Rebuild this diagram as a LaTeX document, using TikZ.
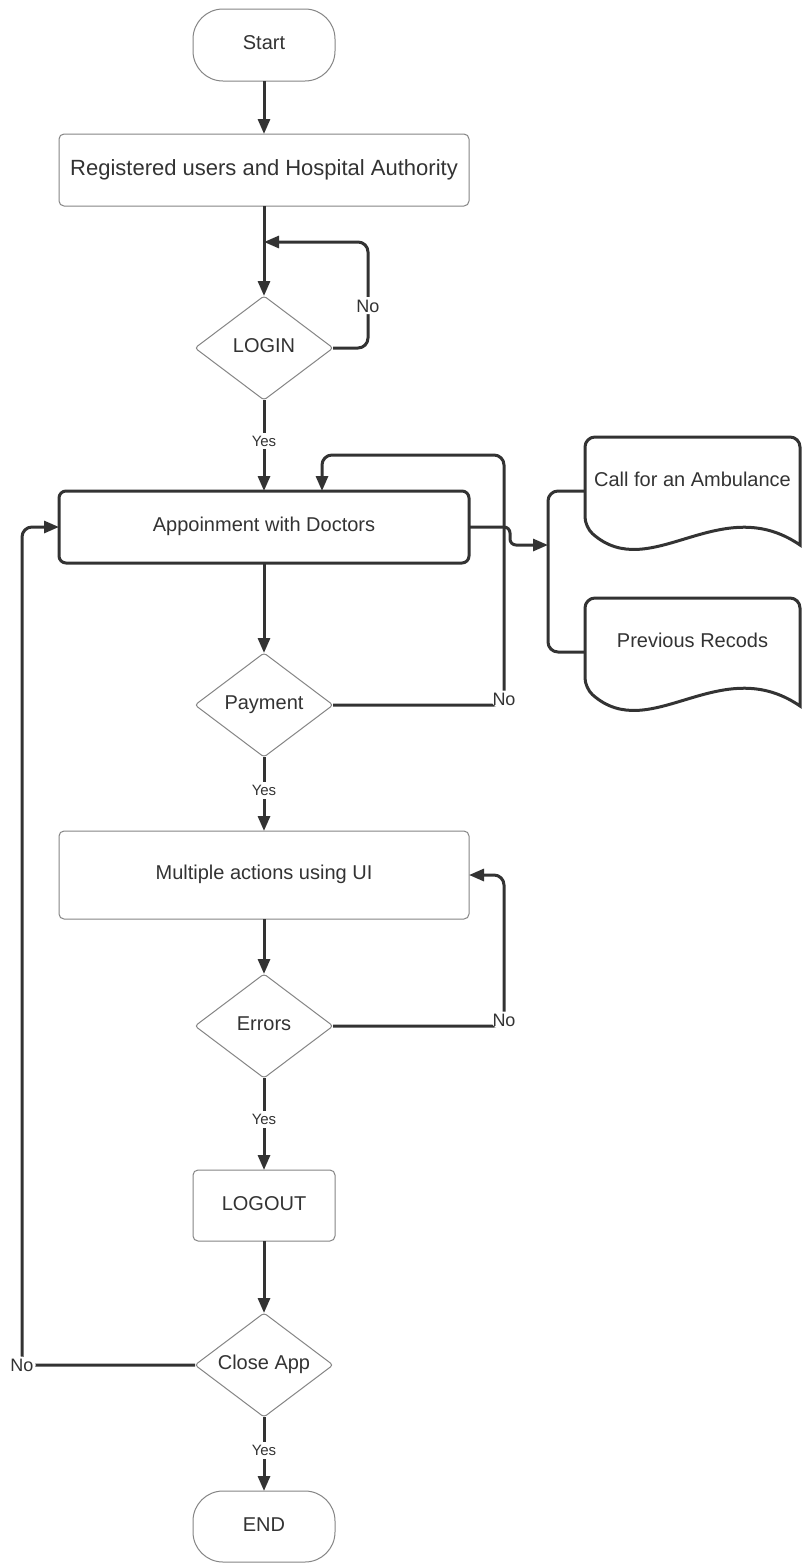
\documentclass[tikz,border=0pt]{standalone}
\usepackage{fontspec}
\setmainfont{Liberation Sans}
\usetikzlibrary{arrows.meta,shapes.geometric}
\definecolor{ink}{HTML}{333333}
\definecolor{rim}{HTML}{858585}

\begin{document}
\begin{tikzpicture}[x=1pt,y=-1pt,>={Triangle[length=15pt,width=12pt]},
  every node/.style={text=ink,inner sep=0pt,outer sep=0pt,
    font=\fontsize{20}{24}\selectfont,text height=14.4pt,text depth=5pt},
  term/.style={draw=rim,line width=1pt,rounded corners=30pt,
    minimum width=142pt,minimum height=72pt},
  proc/.style={draw=rim,line width=1pt,rounded corners=5pt,
    minimum width=410pt,minimum height=72pt},
  decision/.style={diamond,aspect=1.33,draw=rim,line width=1pt,
    rounded corners=3pt,minimum width=138pt,minimum height=104pt},
  docbox/.style={minimum width=215pt,minimum height=108pt,
    text height=10pt,text depth=20pt},
  docrim/.style={draw=ink,line width=3pt},
  flow/.style={->,draw=ink,line width=3pt},
  yeslbl/.style={fill=white,inner sep=3pt,
    font=\fontsize{15}{18}\selectfont,text height=10.8pt,text depth=0pt},
  nolbl/.style={fill=white,inner sep=2pt,
    font=\fontsize{18}{22}\selectfont,text height=13pt,text depth=0pt}]
  \fill[white,use as bounding box] (0,0) rectangle (801,1564);

  \node[term] (start) at (264,45) {Start};
  \node[proc,font=\fontsize{22}{26}\selectfont,text height=15.8pt] (reg)
    at (264,170) {Registered users and Hospital Authority};
  \node[decision] (login) at (264,348) {LOGIN};
  \node[proc,draw=ink,line width=3pt,rounded corners=7pt] (app)
    at (264,527) {Appoinment with Doctors};
  \node[decision] (pay) at (264,705) {Payment};
  \node[docbox] (amb) at (692.5,491) {Call for an Ambulance};
  \node[docbox] (prev) at (692.5,652) {Previous Recods};
  \node[proc,minimum height=88pt] (multi) at (264,875) {Multiple actions using UI};
  \node[decision] (err) at (264,1026) {Errors};
  \node[proc,minimum width=142pt,minimum height=71pt] (logout)
    at (264,1205.5) {LOGOUT};
  \node[decision] (close) at (264,1365) {Close App};
  \node[term,minimum height=71pt] (stop) at (264,1526.5) {END};

  \coordinate (loginjoin) at (264,242);
  \coordinate (fork) at (548,545);

  \draw[flow] (start) -- (reg);
  \draw[flow] (reg) -- (login);
  \draw[flow,rounded corners=10pt] (login.east) -- ++(35,0)
    |- node[pos=.2,nolbl]{No} (loginjoin);
  \draw[flow] (login) -- node[pos=.45,yeslbl]{Yes} (app);
  \draw[flow] (app) -- (pay);
  \draw[flow,rounded corners=10pt] (pay.east) -- ++(171,0)
    node[nolbl,yshift=6pt]{No} -- ++(0,-250) -| ([xshift=58pt]app.north);
  \draw[flow,rounded corners=6pt] (app.east) -- ++(41,0) |- (fork);
  \draw[docrim,rounded corners=10pt] (amb.west) -| (fork) |- (prev.west);
  \foreach \d in {amb,prev}
    \draw[docrim] (\d.south east) [rounded corners=10pt] -- (\d.north east)
      -- (\d.north west) -- ([yshift=18pt]\d.south west) [sharp corners]
      .. controls +(65,58) and +(-80,-55) .. (\d.south east) -- cycle;
  \draw[flow] (pay) -- node[pos=.45,yeslbl]{Yes} (multi);
  \draw[flow] (multi) -- (err);
  \draw[flow,rounded corners=10pt] (err.east) -- ++(171,0)
    node[nolbl,yshift=6pt]{No} |- (multi.east);
  \draw[flow] (err) -- node[pos=.45,yeslbl]{Yes} (logout);
  \draw[flow] (logout) -- (close);
  \draw[flow,rounded corners=10pt] (close.west) -- ++(-173,0)
    node[nolbl]{No} |- (app.west);
  \draw[flow] (close) -- node[pos=.45,yeslbl]{Yes} (stop);
\end{tikzpicture}
\end{document}
